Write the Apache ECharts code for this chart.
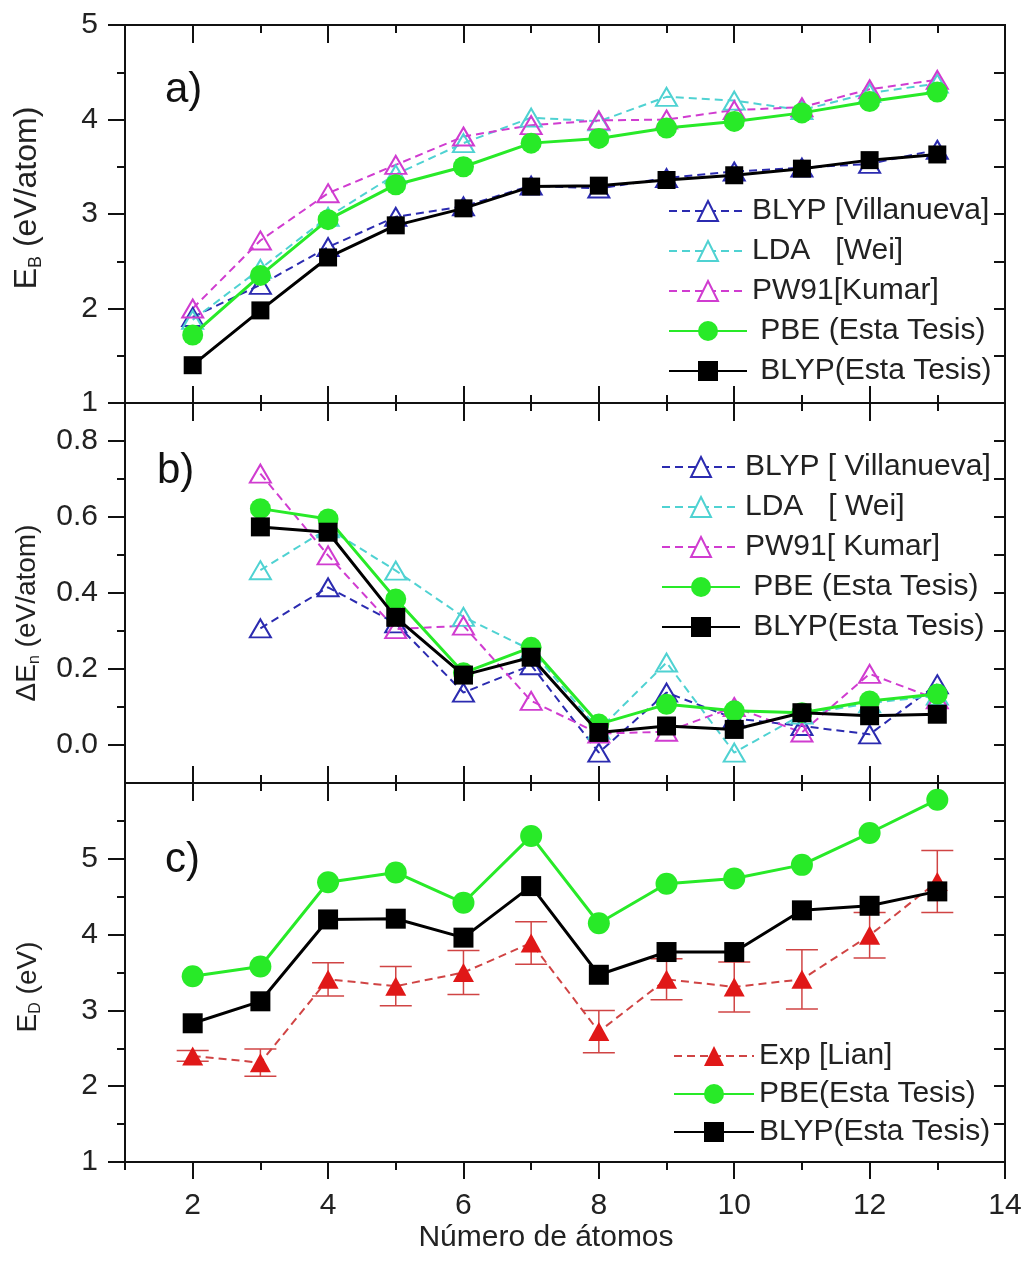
<!DOCTYPE html>
<html>
<head>
<meta charset="utf-8">
<script src="https://cdn.jsdelivr.net/npm/echarts@6/dist/echarts.min.js"></script>
<style>html,body{margin:0;padding:0;background:#fff}#c{width:1028px;height:1266px}</style>
</head>
<body>
<div id="c"></div>
<script>
const FONT = "'Liberation Sans', Arial, Helvetica, sans-serif";

// ---------- data ----------
const atomsA = [2, 3, 4, 5, 6, 7, 8, 9, 10, 11, 12, 13];
const atomsB = [3, 4, 5, 6, 7, 8, 9, 10, 11, 12, 13];
const atomsC = [2, 3, 4, 5, 6, 7, 8, 9, 10, 11, 12, 13];

// panel a) E_B (eV/atom)
const ebBlypVill = [1.91, 2.25, 2.65, 2.97, 3.08, 3.30, 3.27, 3.38, 3.45, 3.49, 3.53, 3.68];
const ebLdaWei   = [1.88, 2.42, 2.97, 3.42, 3.75, 4.02, 3.98, 4.24, 4.20, 4.10, 4.28, 4.38];
const ebPw91     = [2.00, 2.72, 3.22, 3.52, 3.82, 3.94, 3.99, 4.00, 4.10, 4.13, 4.32, 4.42];
const ebPbe      = [1.72, 2.35, 2.94, 3.31, 3.50, 3.75, 3.80, 3.91, 3.98, 4.07, 4.19, 4.29];
const ebBlyp     = [1.40, 1.98, 2.54, 2.88, 3.06, 3.29, 3.30, 3.36, 3.41, 3.48, 3.57, 3.63];

// panel b) Delta E_n (eV/atom)
const deBlypVill = [0.307, 0.415, 0.32, 0.138, 0.21, -0.02, 0.138, 0.07, 0.05, 0.028, 0.16];
const deLdaWei   = [0.46, 0.57, 0.459, 0.337, 0.25, 0.04, 0.217, -0.02, 0.08, 0.11, 0.13];
const dePw91     = [0.714, 0.499, 0.305, 0.314, 0.116, 0.03, 0.035, 0.10, 0.033, 0.187, 0.12];
const dePbe      = [0.622, 0.595, 0.384, 0.19, 0.257, 0.055, 0.107, 0.09, 0.085, 0.116, 0.134];
const deBlyp     = [0.574, 0.56, 0.336, 0.184, 0.231, 0.033, 0.050, 0.041, 0.085, 0.077, 0.081];

// panel c) E_D (eV)
const edExp    = [2.40, 2.31, 3.41, 3.32, 3.50, 3.89, 2.72, 3.41, 3.31, 3.41, 3.99, 4.70];
const edExpErr = [0.07, 0.18, 0.22, 0.26, 0.29, 0.28, 0.28, 0.27, 0.33, 0.39, 0.30, 0.41];
const edPbe    = [3.45, 3.58, 4.69, 4.82, 4.42, 5.30, 4.15, 4.67, 4.74, 4.92, 5.34, 5.78];
const edBlyp   = [2.83, 3.12, 4.20, 4.21, 3.96, 4.64, 3.47, 3.77, 3.77, 4.32, 4.38, 4.57];

// ticks / labels
const xLabels = [2, 4, 6, 8, 10, 12, 14];
const xMajorInner = [2, 4, 6, 8, 10, 12];
const xMinorInner = [3, 5, 7, 9, 11, 13];
const xMinorOuter = [1, 3, 5, 7, 9, 11, 13];
const yMajorA = [1, 2, 3, 4, 5];
const yMinorA = [1.5, 2.5, 3.5, 4.5];
const yMajorB = [0, 0.2, 0.4, 0.6, 0.8];
const yMinorB = [0.1, 0.3, 0.5, 0.7];
const yMajorC = [1, 2, 3, 4, 5];
const yMinorC = [1.5, 2.5, 3.5, 4.5, 5.5];

// ---------- colours ----------
const C_BLUE = '#2b2bb0', C_CYAN = '#4fd2d2', C_MAG = '#d03cd0', C_GREEN = '#28ea28',
      C_BLACK = '#000000', C_RED = '#e01818', C_REDLINE = '#d04444';

const axisLineStyle = {color: '#111', width: 2};
function tick(len, inside, values) {
  const t = {show: true, inside: inside, length: len, lineStyle: {color: '#111', width: 2}};
  if (values) t.customValues = values;
  return t;
}

const xAxes = [], yAxes = [];
function addX(g, pos, major, minor, inside, labels) {
  const base = {gridIndex: g, type: 'value', min: 1, max: 14, interval: 1, position: pos,
    splitLine: {show: false}, axisLine: {show: true, onZero: false, lineStyle: axisLineStyle}};
  xAxes.push(Object.assign({}, base, {
    axisTick: tick(pos === 'top' ? 18 : 17, inside, major),
    axisLabel: labels ? {show: true, customValues: labels, margin: 29, fontSize: 30, color: '#222', fontFamily: FONT}
                      : {show: false}
  }));
  xAxes.push(Object.assign({}, base, {axisTick: tick(8, inside, minor), axisLabel: {show: false}}));
}
function addY(g, min, max, major, minor, rightInterval, fmt) {
  const base = {gridIndex: g, type: 'value', min: min, max: max, splitLine: {show: false},
    axisLine: {show: true, onZero: false, lineStyle: axisLineStyle}};
  yAxes.push(Object.assign({}, base, {position: 'left', interval: rightInterval,
    axisTick: tick(17, false, major),
    axisLabel: {show: true, customValues: major, formatter: fmt, margin: 27, fontSize: 30, color: '#222', fontFamily: FONT}}));
  yAxes.push(Object.assign({}, base, {position: 'left', interval: rightInterval,
    axisTick: tick(8, false, minor), axisLabel: {show: false}}));
  yAxes.push(Object.assign({}, base, {position: 'right', interval: rightInterval,
    axisTick: tick(11, true, null), axisLabel: {show: false}}));
}

// panel a
addX(0, 'bottom', xMajorInner, xMinorInner, true, null);
addX(0, 'top', xMajorInner, xMinorInner, true, null);
addY(0, 1, 5, yMajorA, yMinorA, 0.5, v => String(v));
// panel b
addX(1, 'bottom', xMajorInner, xMinorInner, true, null);
addX(1, 'top', xMajorInner, xMinorInner, true, null);
addY(1, -0.1, 0.9, yMajorB, yMinorB, 0.1, v => Number(v).toFixed(1));
// panel c
addX(2, 'bottom', xLabels, xMinorOuter, false, xLabels);
addX(2, 'top', xMajorInner, xMinorInner, true, null);
addY(2, 1, 6, yMajorC, yMinorC, 0.5, v => String(v));

function zip(xs, ys) { return xs.map((x, i) => [x, ys[i]]); }

function dashedTri(name, g, xs, ys, color) {
  return {name: name, type: 'line', xAxisIndex: g * 4, yAxisIndex: g * 3, data: zip(xs, ys),
    symbol: 'triangle', symbolSize: [21, 18],
    lineStyle: {color: color, width: 2, type: [8, 5]},
    itemStyle: {color: 'rgba(255,255,255,0)', borderColor: color, borderWidth: 2},
    z: 2};
}
function solid(name, g, xs, ys, color, symbol, size, z) {
  return {name: name, type: 'line', xAxisIndex: g * 4, yAxisIndex: g * 3, data: zip(xs, ys),
    symbol: symbol, symbolSize: size,
    lineStyle: {color: color, width: 3},
    itemStyle: {color: color, borderWidth: 0}, z: z};
}

const series = [
  dashedTri('BLYP [Villanueva]', 0, atomsA, ebBlypVill, C_BLUE),
  dashedTri('LDA   [Wei]', 0, atomsA, ebLdaWei, C_CYAN),
  dashedTri('PW91[Kumar]', 0, atomsA, ebPw91, C_MAG),
  solid(' PBE (Esta Tesis)', 0, atomsA, ebPbe, C_GREEN, 'circle', 21, 3),
  solid(' BLYP(Esta Tesis)', 0, atomsA, ebBlyp, C_BLACK, 'rect', 18, 4),

  dashedTri('BLYP [ Villanueva]', 1, atomsB, deBlypVill, C_BLUE),
  dashedTri('LDA   [ Wei]', 1, atomsB, deLdaWei, C_CYAN),
  dashedTri('PW91[ Kumar]', 1, atomsB, dePw91, C_MAG),
  solid(' PBE (Esta Tesis) ', 1, atomsB, dePbe, C_GREEN, 'circle', 21, 3),
  solid(' BLYP(Esta Tesis) ', 1, atomsB, deBlyp, C_BLACK, 'rect', 19, 4),

  {name: 'errbars', type: 'custom', xAxisIndex: 8, yAxisIndex: 6,
    data: atomsC.map((n, i) => [n, edExp[i] - edExpErr[i], edExp[i] + edExpErr[i]]),
    encode: {x: 0, y: [1, 2]},
    renderItem: function (params, api) {
      const x = api.value(0);
      const lo = api.coord([x, api.value(1)]);
      const hi = api.coord([x, api.value(2)]);
      const hw = 16;
      const st = {stroke: C_REDLINE, lineWidth: 1.5};
      return {type: 'group', children: [
        {type: 'line', shape: {x1: lo[0], y1: lo[1], x2: hi[0], y2: hi[1]}, style: st},
        {type: 'line', shape: {x1: lo[0] - hw, y1: lo[1], x2: lo[0] + hw, y2: lo[1]}, style: st},
        {type: 'line', shape: {x1: hi[0] - hw, y1: hi[1], x2: hi[0] + hw, y2: hi[1]}, style: st}
      ]};
    }, z: 1},
  {name: 'Exp [Lian]', type: 'line', xAxisIndex: 8, yAxisIndex: 6, data: zip(atomsC, edExp),
    symbol: 'triangle', symbolSize: [21, 19],
    lineStyle: {color: C_REDLINE, width: 2, type: [8, 5]},
    itemStyle: {color: C_RED}, z: 2},
  solid('PBE(Esta Tesis)', 2, atomsC, edPbe, C_GREEN, 'circle', 22, 3),
  solid('BLYP(Esta Tesis)', 2, atomsC, edBlyp, C_BLACK, 'rect', 20, 4)
];

function legend(left, top, gap, width, names, hollow) {
  return {left: left, top: top, orient: 'vertical', itemGap: gap, itemWidth: width, itemHeight: 25,
    padding: 0, selectedMode: false,
    textStyle: {fontSize: 30, fontFamily: FONT, color: '#222', lineHeight: 30},
    data: names.map((n, i) => hollow[i] ? {name: n, itemStyle: {color: '#fff'}} : {name: n})};
}

function ytitle(x, y, fs, main, sub, rest) {
  return {type: 'text', x: x, y: y, rotation: Math.PI / 2,
    style: {text: '{m|' + main + '}{s|' + sub + '}{m|' + rest + '}',
      align: 'center', verticalAlign: 'middle', textAlign: 'center', textVerticalAlign: 'middle',
      rich: {
        m: {fontSize: fs, fontFamily: FONT, fill: '#222', color: '#222', lineHeight: fs + 4},
        s: {fontSize: Math.round(fs * 0.57), fontFamily: FONT, fill: '#222', color: '#222', lineHeight: 14, verticalAlign: 'bottom'}
      }}};
}
function label(x, y, t) {
  return {type: 'text', x: x, y: y,
    style: {text: t, fontSize: 42, fontFamily: FONT, fill: '#111', align: 'left', verticalAlign: 'middle',
      textAlign: 'left', textVerticalAlign: 'middle'}};
}

const option = {
  animation: false,
  backgroundColor: '#fff',
  grid: [
    {left: 125, top: 25, width: 880, height: 378},
    {left: 125, top: 403, width: 880, height: 380},
    {left: 125, top: 783, width: 880, height: 379}
  ],
  xAxis: xAxes,
  yAxis: yAxes,
  legend: [
    legend(668, 196, 10, 78, ['BLYP [Villanueva]', 'LDA   [Wei]', 'PW91[Kumar]', ' PBE (Esta Tesis)', ' BLYP(Esta Tesis)'], [1, 1, 1, 0, 0]),
    legend(661, 452, 10, 78, ['BLYP [ Villanueva]', 'LDA   [ Wei]', 'PW91[ Kumar]', ' PBE (Esta Tesis) ', ' BLYP(Esta Tesis) '], [1, 1, 1, 0, 0]),
    legend(673, 1041, 8, 80, ['Exp [Lian]', 'PBE(Esta Tesis)', 'BLYP(Esta Tesis)'], [0, 0, 0])
  ],
  graphic: [
    label(165, 90, 'a)'),
    label(157, 471, 'b)'),
    label(165, 860, 'c)'),
    ytitle(27, 198, 32, 'E', 'B', ' (eV/atom)'),
    ytitle(27, 613, 28, 'ΔE', 'n', ' (eV/atom)'),
    ytitle(28, 987, 28, 'E', 'D', ' (eV)'),
    {type: 'text', x: 546, y: 1238,
      style: {text: 'Número de átomos', fontSize: 30, fontFamily: FONT, fill: '#222',
        align: 'center', verticalAlign: 'middle', textAlign: 'center', textVerticalAlign: 'middle'}}
  ],
  series: series
};

const chart = echarts.init(document.getElementById('c'), null, {renderer: 'canvas'});
chart.setOption(option);
</script>
</body>
</html>
